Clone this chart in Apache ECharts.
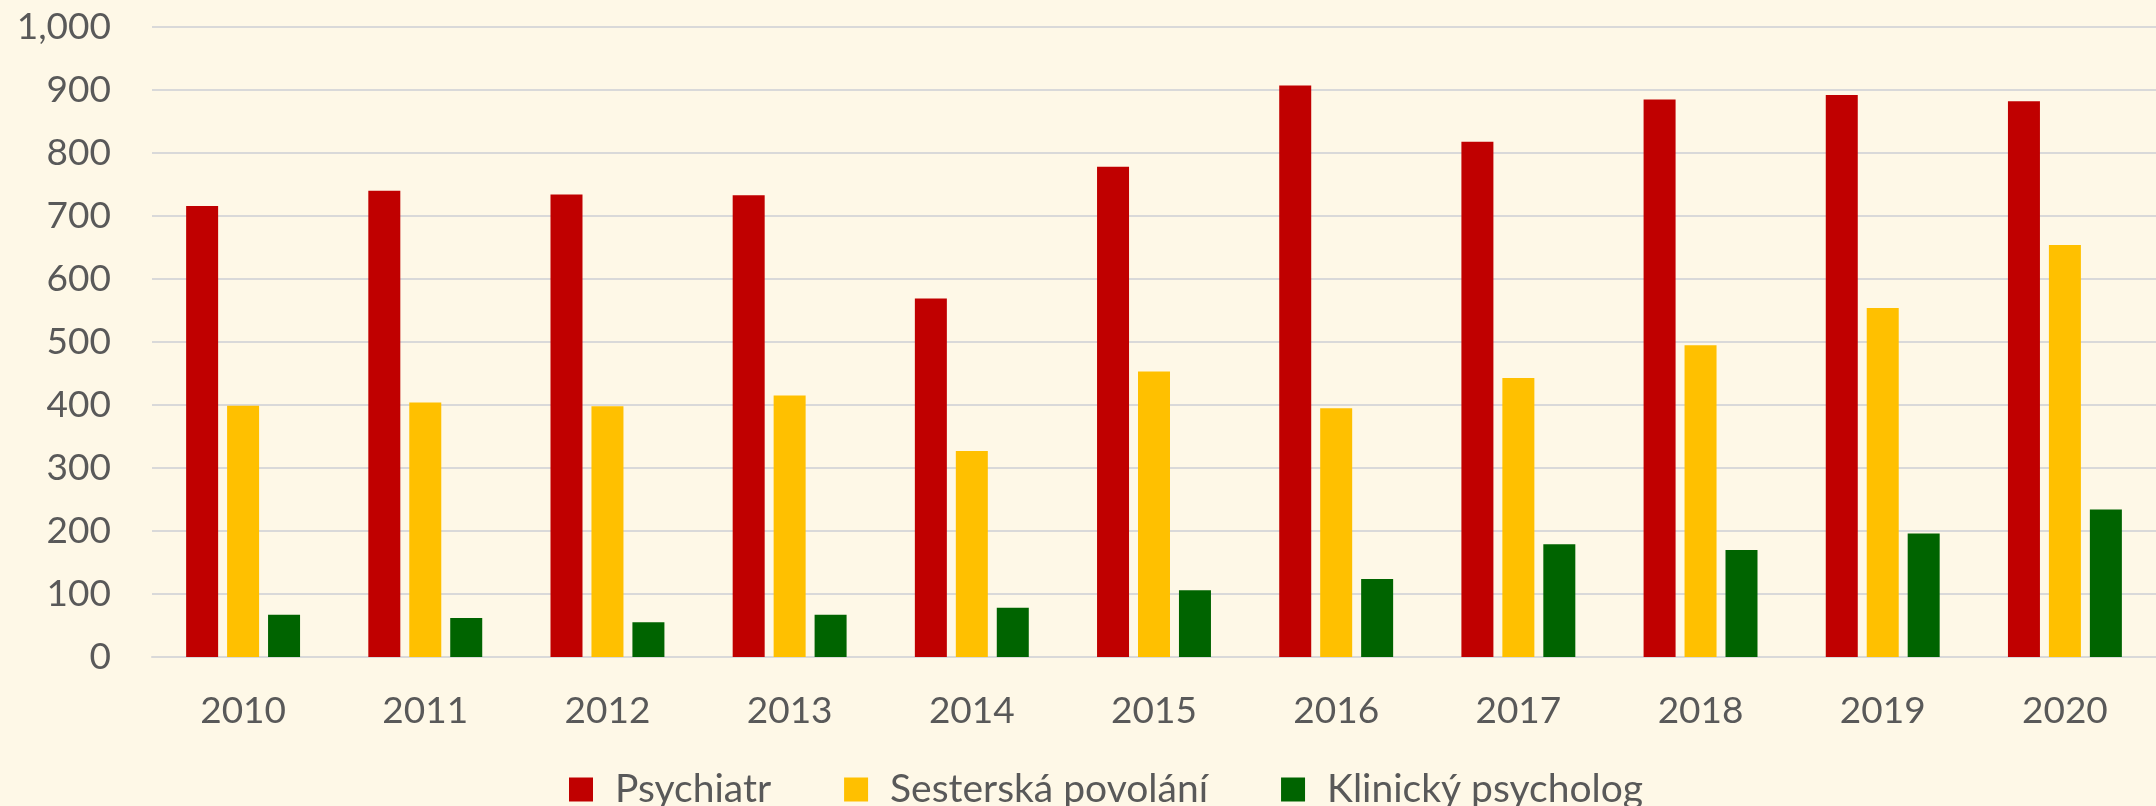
<!DOCTYPE html>
<html>
<head>
<meta charset="utf-8">
<script src="https://cdn.jsdelivr.net/npm/echarts@6/dist/echarts.min.js"></script>
<style>
  html, body { margin: 0; padding: 0; background: #fef8e7; }
  #chart { width: 2156px; height: 806px; }
</style>
</head>
<body>
<div id="chart"></div>
<script>
// years on the x axis
const years = ['2010', '2011', '2012', '2013', '2014', '2015', '2016', '2017', '2018', '2019', '2020']
// values
const psychiatr = [716, 740, 734, 733, 569, 778, 907, 818, 885, 892, 882]
const sesterska = [399, 404, 398, 415, 327, 453, 395, 443, 495, 554, 654]
const klinicky = [67, 62, 55, 67, 78, 106, 124, 179, 170, 196, 234]

const labelColor = '#595959'
const fontFamily = 'Lato'

let myChart = echarts.init(document.getElementById('chart'))

function bar (name, data, color) {
  return {
    name: name,
    type: 'bar',
    data: data,
    barWidth: 32,
    barGap: '28%',
    itemStyle: { color: color }
  }
}

let option = {
  backgroundColor: '#fef8e7',
  animation: false,
  textStyle: { fontFamily: fontFamily },
  grid: {
    left: 152,
    right: 0,
    top: 27,
    bottom: 149
  },
  legend: {
    left: 564,
    top: 765,
    itemWidth: 24,
    itemHeight: 24,
    itemGap: 73,
    icon: 'rect',
    textStyle: {
      color: labelColor,
      fontSize: 39,
      fontFamily: fontFamily,
      padding: [0, 0, 0, 17]
    },
    data: ['Psychiatr', 'Sesterská povolání', 'Klinický psycholog']
  },
  xAxis: {
    type: 'category',
    data: years,
    axisLine: { lineStyle: { color: '#d9d9d9', width: 2 } },
    axisTick: { show: false },
    axisLabel: {
      color: labelColor,
      fontSize: 37,
      margin: 36
    }
  },
  yAxis: {
    type: 'value',
    min: 0,
    max: 1000,
    interval: 100,
    axisLine: { show: false },
    axisTick: { show: false },
    splitLine: { lineStyle: { color: '#d9d9d9', width: 2 } },
    axisLabel: {
      color: labelColor,
      fontSize: 37,
      margin: 41,
      formatter: function (v) {
        return v.toLocaleString('en-US')
      }
    }
  },
  series: [
    bar('Psychiatr', psychiatr, '#c00000'),
    bar('Sesterská povolání', sesterska, '#ffc000'),
    bar('Klinický psycholog', klinicky, '#006400')
  ]
}

myChart.setOption(option)
</script>
</body>
</html>
